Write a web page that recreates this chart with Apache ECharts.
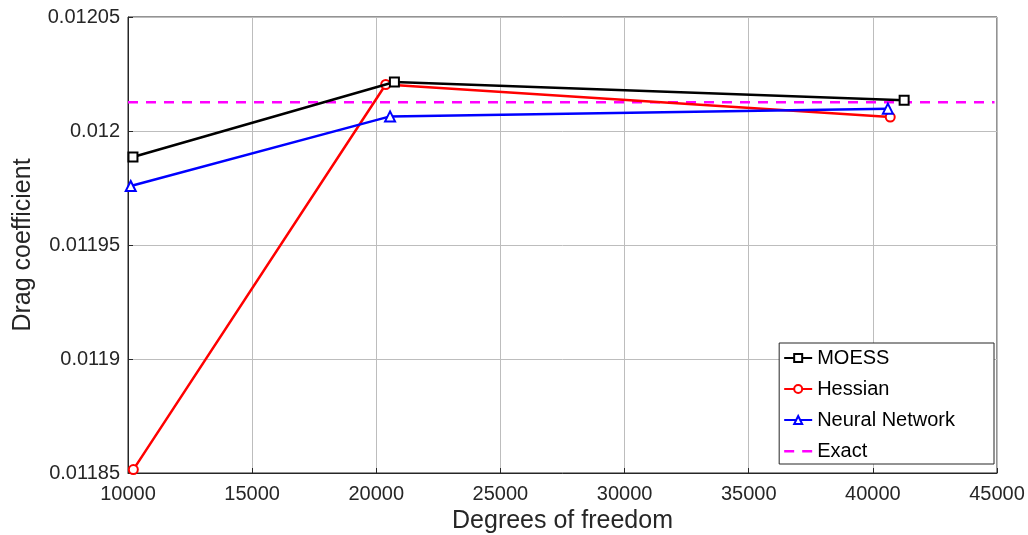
<!DOCTYPE html>
<html>
<head>
<meta charset="utf-8">
<script src="https://cdn.jsdelivr.net/npm/echarts@6/dist/echarts.min.js"></script>
<style>
  html, body { margin: 0; padding: 0; background: #fff; }
  #main { width: 1028px; height: 535px; }
</style>
</head>
<body>
<div id="main"></div>
<script>
// values
var moessX = [10200, 20730, 41260];
var moessY = [0.0119886, 0.0120215, 0.0120135];
var hessianX = [10215, 20380, 40700];
var hessianY = [0.0118515, 0.0120204, 0.0120061];
var nnX = [10110, 20555, 40605];
var nnY = [0.0119759, 0.0120064, 0.0120098];
var exactX = [10000, 44900];
var exactY = [0.0120126, 0.0120126];
var yTickLabels = ['0.01185', '0.0119', '0.01195', '0.012', '0.01205'];

function pairs(xs, ys) {
    var out = [];
    for (var i = 0; i < xs.length; i++) out.push([xs[i], ys[i]]);
    return out;
}

var myChart = echarts.init(document.getElementById('main'));
var font = '"Liberation Sans", Arial, Helvetica, sans-serif';
var axisCol = '#262626';
// dashed legend icon for the Exact line (corner dots keep the box size)
var dashIcon = 'path://M0,0h0.01v0.01h-0.01z M0,4h10v2.4h-10z M18,4h10v2.4h-10z M27.99,9.99h0.01v0.01h-0.01z';

var option = {
    animation: false,
    textStyle: { fontFamily: font },
    grid: {
        left: 128, right: 31, top: 17, bottom: 62,
        outerBoundsMode: 'none',
        show: true, borderColor: axisCol, borderWidth: 1
    },
    legend: {
        orient: 'vertical',
        right: 34, top: 343,
        backgroundColor: '#fff',
        borderColor: axisCol, borderWidth: 1, borderRadius: 0,
        padding: [5, 39, 3, 4],
        itemGap: 11,
        itemWidth: 28, itemHeight: 10,
        textStyle: { fontSize: 20, color: '#000', fontFamily: font },
        data: ['MOESS', 'Hessian', 'Neural Network', { name: 'Exact', icon: dashIcon }]
    },
    xAxis: {
        type: 'value',
        min: 10000, max: 45000, interval: 5000,
        name: 'Degrees of freedom',
        nameLocation: 'middle', nameGap: 36,
        nameTextStyle: { fontSize: 25, color: axisCol },
        axisLine: { onZero: false, lineStyle: { color: axisCol } },
        axisTick: { inside: true, length: 5, lineStyle: { color: axisCol } },
        axisLabel: {
            fontSize: 20, color: axisCol, margin: 11,
            formatter: function (v) { return String(v); }
        },
        splitLine: { show: true, lineStyle: { color: '#bdbdbd' } }
    },
    yAxis: {
        type: 'value',
        min: 0.01185, max: 0.01205, interval: 0.00005,
        name: 'Drag coefficient',
        nameLocation: 'middle', nameGap: 92,
        nameTextStyle: { fontSize: 25, color: axisCol },
        axisLine: { show: true, onZero: false, lineStyle: { color: axisCol } },
        axisTick: { show: true, inside: true, length: 5, lineStyle: { color: axisCol } },
        axisLabel: {
            fontSize: 20, color: axisCol, margin: 8,
            formatter: function (v) {
                var k = Math.round((v - 0.01185) / 0.00005);
                return yTickLabels[k] || '';
            }
        },
        splitLine: { show: true, lineStyle: { color: '#bdbdbd' } }
    },
    series: [
        {
            name: 'MOESS', type: 'line', data: pairs(moessX, moessY),
            symbol: 'emptyRect', symbolSize: 9,
            lineStyle: { color: '#000', width: 2.5 },
            itemStyle: { color: '#000', borderWidth: 2 },
            z: 4
        },
        {
            name: 'Hessian', type: 'line', data: pairs(hessianX, hessianY),
            symbol: 'emptyCircle', symbolSize: 9,
            lineStyle: { color: '#ff0000', width: 2.5 },
            itemStyle: { color: '#ff0000', borderWidth: 2 },
            z: 3
        },
        {
            name: 'Neural Network', type: 'line', data: pairs(nnX, nnY),
            symbol: 'emptyTriangle', symbolSize: 10,
            lineStyle: { color: '#0000ff', width: 2.5 },
            itemStyle: { color: '#0000ff', borderWidth: 2 },
            z: 3
        },
        {
            name: 'Exact', type: 'line', data: pairs(exactX, exactY),
            symbol: 'none',
            lineStyle: { color: '#ff00ff', width: 2.5, type: [10, 8] },
            itemStyle: { color: '#ff00ff' },
            z: 2
        }
    ]
};
myChart.setOption(option);
</script>
</body>
</html>
